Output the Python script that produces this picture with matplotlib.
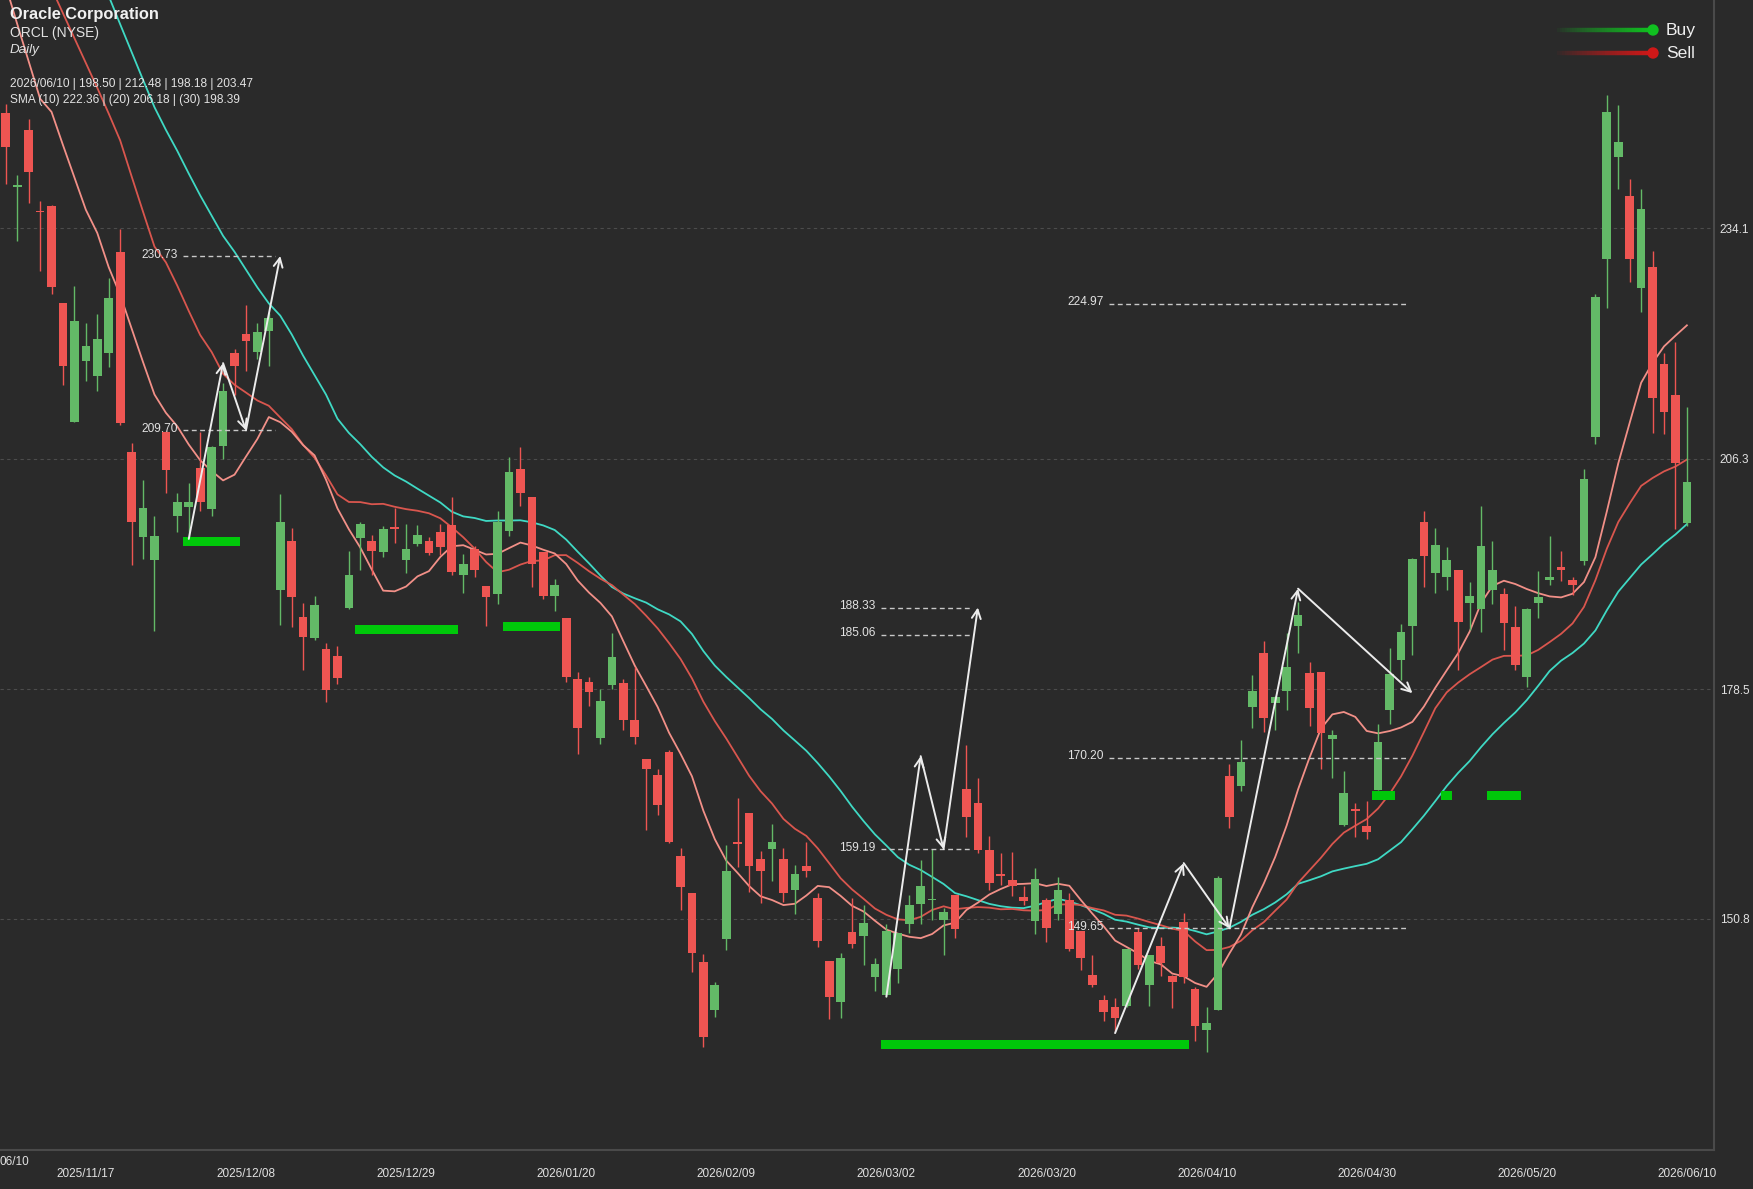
import numpy as np
import matplotlib
matplotlib.use("Agg")
import matplotlib.pyplot as plt
from matplotlib.collections import LineCollection
from matplotlib.patches import Rectangle, Circle

W, H = 1753, 1189

# daily candles, 2025/11/06 .. 2026/06/10
opens = [
    248.0, 239.0, 245.9, 236.2, 236.8, 225.0, 210.75, 218.1, 216.2, 219.0,
    231.2, 207.1, 196.8, 194.0, 209.5, 199.4, 200.5, 205.2, 200.2, 207.8,
    219.0, 221.3, 219.1, 221.7, 190.5, 196.35, 187.2, 184.65, 183.3, 182.5,
    188.25, 196.7, 196.4, 195.0, 198.0, 194.1, 196.0, 196.4, 197.4, 198.3,
    192.2, 195.4, 190.9, 189.9, 197.5, 205.0, 201.7, 195.0, 189.75, 187.1,
    179.7, 179.3, 172.55, 179.0, 179.2, 174.8, 170.1, 168.1, 170.9, 158.3,
    153.9, 145.6, 139.8, 148.4, 160.0, 163.6, 157.95, 159.2, 157.95, 154.3,
    157.2, 153.3, 145.7, 140.8, 149.2, 148.7, 143.8, 141.6, 144.7, 150.1,
    152.6, 153.0, 150.7, 153.7, 166.4, 164.7, 159.1, 156.1, 155.5, 153.4,
    150.5, 153.1, 151.4, 153.1, 149.35, 144.0, 141.0, 140.15, 140.3, 149.2,
    142.8, 147.55, 143.85, 150.4, 142.3, 137.4, 139.8, 168.0, 166.8, 176.3,
    182.9, 176.8, 178.3, 186.1, 180.4, 180.5, 172.5, 162.1, 164.0, 162.0,
    166.3, 176.0, 182.0, 186.1, 198.6, 192.45, 192.05, 192.85, 188.9, 188.1,
    190.45, 189.95, 185.95, 179.9, 188.9, 191.65, 193.2, 191.6, 193.9, 208.9,
    230.4, 242.7, 238.0, 226.9, 229.4, 217.75, 213.9, 198.50,
]
highs = [
    249.1, 240.5, 247.2, 237.4, 236.9, 225.1, 227.1, 222.7, 223.7, 228.1,
    234.0, 208.2, 203.7, 199.4, 209.6, 202.2, 203.4, 209.5, 207.8, 215.4,
    219.5, 224.8, 222.6, 223.8, 202.0, 197.9, 188.9, 189.7, 184.1, 183.7,
    195.1, 198.7, 197.1, 198.2, 200.3, 198.4, 198.3, 196.8, 198.4, 201.6,
    194.8, 195.7, 190.9, 200.0, 206.5, 207.7, 201.7, 195.0, 191.75, 187.1,
    180.5, 180.0, 178.5, 185.2, 179.7, 181.1, 170.1, 168.8, 171.1, 159.3,
    153.9, 146.5, 143.2, 159.7, 165.3, 163.6, 159.0, 162.2, 159.3, 157.3,
    160.0, 153.9, 145.7, 146.7, 153.25, 152.4, 146.0, 150.2, 149.1, 153.6,
    157.9, 159.2, 152.1, 153.7, 171.8, 167.8, 160.8, 158.7, 158.9, 154.7,
    156.9, 153.3, 155.8, 153.9, 149.35, 146.45, 141.6, 141.2, 147.1, 149.7,
    146.45, 148.6, 144.05, 151.5, 142.6, 140.15, 155.9, 169.4, 172.4, 180.2,
    184.3, 177.6, 185.2, 189.0, 181.8, 180.5, 173.55, 168.65, 164.8, 165.0,
    174.3, 183.4, 186.4, 194.3, 200.0, 197.9, 195.6, 192.85, 191.45, 200.6,
    196.3, 190.65, 188.55, 188.3, 192.7, 196.9, 195.2, 192.0, 205.0, 226.1,
    250.2, 248.9, 240.05, 238.8, 231.3, 219.0, 220.4, 212.48,
]
lows = [
    239.4, 232.5, 237.1, 228.9, 226.2, 215.2, 210.7, 215.6, 214.5, 217.3,
    210.3, 193.5, 194.2, 185.5, 202.2, 197.4, 196.6, 200.0, 199.4, 206.3,
    213.9, 216.9, 218.3, 217.5, 186.2, 186.0, 180.8, 184.4, 176.9, 179.1,
    188.1, 192.9, 192.2, 194.4, 196.1, 192.5, 195.7, 194.7, 194.7, 192.3,
    190.1, 192.0, 186.1, 188.8, 197.0, 200.6, 190.8, 189.35, 187.9, 179.3,
    170.7, 176.45, 171.9, 178.5, 173.6, 171.9, 161.5, 163.3, 159.9, 151.8,
    144.4, 135.3, 138.9, 147.0, 157.0, 154.05, 152.65, 155.3, 152.85, 151.4,
    155.8, 147.4, 138.65, 138.8, 147.3, 145.2, 142.1, 141.4, 143.1, 149.1,
    150.2, 150.7, 146.45, 148.5, 160.65, 158.7, 154.2, 154.9, 153.5, 152.4,
    149.0, 148.0, 150.7, 146.9, 144.65, 142.5, 138.4, 137.2, 140.1, 144.7,
    140.3, 143.9, 140.0, 143.0, 136.0, 134.7, 139.8, 161.7, 166.2, 173.75,
    173.35, 173.6, 176.0, 182.8, 174.0, 168.8, 167.8, 162.0, 160.6, 160.4,
    166.3, 174.3, 179.6, 182.6, 190.8, 190.1, 190.5, 180.8, 185.6, 185.4,
    188.8, 183.2, 180.8, 178.8, 187.1, 191.0, 191.5, 189.8, 193.5, 208.0,
    224.5, 238.8, 227.6, 224.0, 209.4, 209.3, 197.75, 198.18,
]
closes = [
    243.9, 239.3, 240.8, 236.0, 227.0, 217.5, 222.9, 219.9, 220.7, 225.7,
    210.6, 198.7, 200.3, 196.9, 204.9, 201.1, 201.0, 201.0, 207.7, 214.4,
    217.5, 220.5, 221.6, 223.3, 198.7, 189.65, 184.8, 188.6, 178.4, 179.8,
    192.3, 198.4, 195.2, 197.8, 197.85, 195.4, 197.1, 194.9, 195.6, 192.6,
    193.6, 192.8, 189.6, 198.6, 204.7, 202.1, 193.6, 189.75, 191.1, 179.9,
    173.8, 178.1, 177.1, 182.4, 174.75, 172.75, 168.9, 164.5, 160.0, 154.6,
    146.6, 136.5, 142.8, 156.6, 159.8, 157.1, 156.5, 160.0, 153.9, 156.2,
    156.5, 148.1, 141.3, 146.1, 147.8, 150.3, 145.3, 149.3, 149.1, 152.4,
    154.8, 153.1, 151.6, 149.5, 163.1, 159.1, 155.1, 156.0, 154.8, 152.9,
    155.6, 149.7, 154.3, 147.1, 146.0, 142.8, 139.6, 138.8, 147.1, 145.25,
    146.45, 145.5, 143.2, 143.8, 137.9, 138.2, 155.7, 163.1, 169.7, 178.3,
    175.0, 177.5, 181.1, 187.4, 176.2, 173.15, 172.95, 166.0, 163.8, 161.3,
    172.1, 180.3, 185.4, 194.2, 194.6, 195.9, 194.0, 186.6, 189.7, 195.8,
    192.9, 186.5, 181.4, 188.2, 189.6, 192.0, 192.8, 191.0, 203.8, 225.8,
    248.1, 244.5, 230.4, 236.4, 213.6, 211.85, 205.7, 203.47,
]
# closes before the visible window (estimated from where the SMA lines run)
prior_closes = [
    341.3, 342.8, 338.0, 329.0, 319.5, 324.9, 321.9, 322.7, 327.7, 312.6,
    299.3, 300.8, 296.0, 287.0, 277.5, 282.9, 279.9, 280.7, 287.7, 275.2,
    285.3, 285.8, 281.0, 243.0, 257.5, 261.9, 258.9, 248.7, 267.0,
]

tick_index = [7, 21, 35, 49, 63, 77, 91, 105, 119, 133, 147]
tick_labels = ["2025/11/17", "2025/12/08", "2025/12/29", "2026/01/20", "2026/02/09",
               "2026/03/02", "2026/03/20", "2026/04/10", "2026/04/30", "2026/05/20",
               "2026/06/10"]
y_ticks = [150.8, 178.5, 206.3, 234.1]

# signal bars: first candle, last candle, price
bar_start = [16, 31, 44, 77, 120, 126, 130]
bar_end = [20, 39, 48, 103, 121, 126, 132]
bar_price = [196.3, 185.7, 186.0, 135.6, 165.7, 165.7, 165.7]

# zigzag projections: (candle, price) vertices
zig_x = [[16, 19, 21, 24], [77, 80, 82, 85], [97, 103, 107, 113, 123]]
zig_y = [[196.6, 217.8, 209.70, 230.73], [141.4, 170.4, 159.19, 188.33],
         [137.0, 157.5, 149.65, 190.6, 178.0]]
# dashed levels: start candle, end candle, price
lvl_start = [16, 16, 77, 77, 77, 97, 97, 97]
lvl_end = [24, 24, 85, 85, 85, 123, 123, 123]
lvl_price = [230.73, 209.70, 188.33, 185.06, 159.19, 224.97, 170.20, 149.65]

BG = "#2a2a2a"
UP = "#63b967"
DOWN = "#ee5552"
TXT = "#e2e2e2"

plt.rcParams["font.family"] = ["Liberation Sans", "DejaVu Sans"]

fig = plt.figure(figsize=(W / 100, H / 100), dpi=100, facecolor=BG)
ax = fig.add_axes([0, 1 - 1150 / H, 1714 / W, 1150 / H])
ax.set_facecolor(BG)

n = len(closes)
x = np.arange(n)
o = np.array(opens)
c = np.array(closes)
hi = np.array(highs)
lo = np.array(lows)

# moving averages
allc = np.array(prior_closes + closes)
sma = {}
for p in (10, 20, 30):
    m = np.convolve(allc, np.ones(p) / p, mode="valid")
    sma[p] = m[len(m) - n:]

ax.plot(x, sma[30], color="#3fd9c4", lw=1.3, zorder=2)
ax.plot(x, sma[20], color="#d9564e", lw=1.3, zorder=2)
ax.plot(x, sma[10], color="#f29088", lw=1.3, zorder=2)

# candles
bw = 0.76
for i in range(n):
    col = UP if c[i] >= o[i] else DOWN
    ax.plot([i, i], [lo[i], hi[i]], color=col, lw=1.0, zorder=3, solid_capstyle="butt")
    bot = min(o[i], c[i])
    h = max(abs(c[i] - o[i]), 0.18)
    ax.add_patch(Rectangle((i - bw / 2, bot), bw, h, facecolor=col, edgecolor="none", zorder=4))

# green signal bars
for s, e, pr in zip(bar_start, bar_end, bar_price):
    ax.add_patch(Rectangle((s - 0.5, pr - 0.55), e - s + 1, 1.1, facecolor="#00c80a",
                           edgecolor="none", zorder=5))

# dashed levels + labels
for s, e, pr in zip(lvl_start, lvl_end, lvl_price):
    ax.plot([s - 0.5, e - 0.5], [pr, pr], color="#c8c8c8", lw=1.0, ls=(0, (3.5, 2.5)), zorder=5)
    ax.annotate(f"{pr:.2f}", xy=(s - 0.5, pr), xytext=(-4, 1), textcoords="offset points",
                ha="right", va="center", color=TXT, fontsize=8.6, zorder=6)

# zigzag arrows
for zx, zy in zip(zig_x, zig_y):
    for j in range(1, len(zx)):
        ax.annotate("", xy=(zx[j], zy[j]), xytext=(zx[j - 1], zy[j - 1]),
                    arrowprops=dict(arrowstyle="->", color="#ececec", lw=1.4,
                                    shrinkA=0, shrinkB=0, mutation_scale=16),
                    zorder=6)

ax.set_xlim(-0.507, 149.37)
ax.set_ylim(122.9, 261.6)
for yt in y_ticks:
    ax.axhline(yt, color="#4c4c4c", lw=0.8, ls=(0, (3, 3)), zorder=1)

ax.yaxis.tick_right()
ax.set_yticks(y_ticks)
ax.set_yticklabels([f"{v:.1f}" for v in y_ticks])
ax.tick_params(axis="y", length=0, pad=4, labelsize=8.5, labelcolor=TXT)
ax.set_xticks(tick_index)
ax.set_xticklabels(tick_labels)
ax.tick_params(axis="x", length=0, pad=13, labelsize=8.5, labelcolor=TXT)
for side in ("left", "top"):
    ax.spines[side].set_visible(False)
for side in ("right", "bottom"):
    ax.spines[side].set_color("#4a4a4a")
    ax.spines[side].set_linewidth(1.5)

# overlay in pixel coordinates for header and legend
ov = fig.add_axes([0, 0, 1, 1])
ov.set_xlim(0, W)
ov.set_ylim(H, 0)
ov.axis("off")
ov.patch.set_alpha(0)

ov.text(10, 14, "Oracle Corporation", fontsize=11.8, fontweight="bold", color="#f0f0f0",
        va="center", ha="left")
ov.text(10, 33.5, "ORCL (NYSE)", fontsize=10, color=TXT, va="center", ha="left")
ov.text(10, 50.5, "Daily", fontsize=9.6, fontstyle="italic", color=TXT, va="center", ha="left")
ov.text(10, 84, f"2026/06/10 | {opens[-1]:.2f} | {highs[-1]:.2f} | {lows[-1]:.2f} | {closes[-1]:.2f}",
        fontsize=8.6, color=TXT, va="center", ha="left")
ov.text(10, 99.5, f"SMA (10) {sma[10][-1]:.2f} | (20) {sma[20][-1]:.2f} | (30) {sma[30][-1]:.2f}",
        fontsize=8.6, color=TXT, va="center", ha="left")
ov.text(0, 1162, "06/10", fontsize=8.5, color=TXT, va="center", ha="left")

for label, col, yy in (("Buy", "#10c020", 30), ("Sell", "#d01818", 53)):
    xs = np.linspace(1555, 1652, 40)
    segs = [[(xs[j], yy), (xs[j + 1], yy)] for j in range(len(xs) - 1)]
    alphas = np.linspace(0.0, 1.0, len(segs)) ** 0.8
    rgba = [matplotlib.colors.to_rgba(col, a) for a in alphas]
    ov.add_collection(LineCollection(segs, colors=rgba, linewidths=3.2))
    ov.add_patch(Circle((1653, yy), 5, color=col))
    ov.text(1666, yy, label, fontsize=12.6, color="#eeeeee", va="center", ha="left")

fig.savefig("out.png", dpi=100, facecolor=BG)
